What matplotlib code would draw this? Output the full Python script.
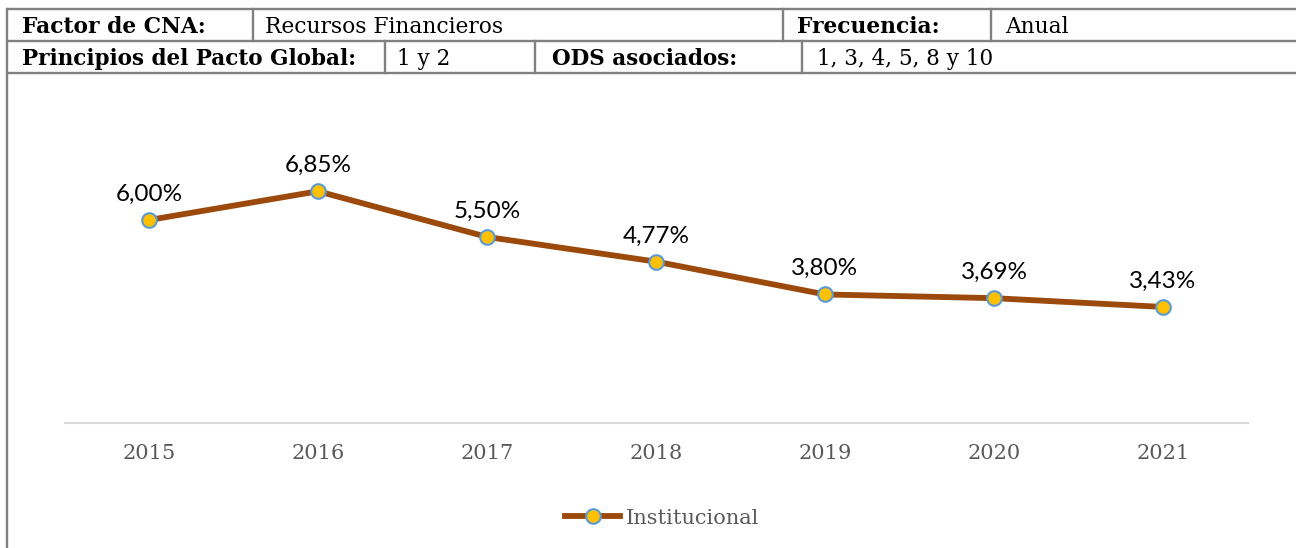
import matplotlib
matplotlib.use("Agg")
import matplotlib.pyplot as plt
import numpy as np

# chart data
years = ["2015", "2016", "2017", "2018", "2019", "2020", "2021"]
values = [6.00, 6.85, 5.50, 4.77, 3.80, 3.69, 3.43]
series_name = "Institucional"

# header table text
row1 = [("Factor de CNA:", True), ("Recursos Financieros", False),
        ("Frecuencia:", True), ("Anual", False)]
row2 = [("Principios del Pacto Global:", True), ("1 y 2", False),
        ("ODS asociados:", True), ("1, 3, 4, 5, 8 y 10", False)]

W, H = 1296, 548
SERIF = "DejaVu Serif"
SANS = "Lato"


def main():
    fig = plt.figure(figsize=(W / 100, H / 100), dpi=100)

    # full figure overlay in pixel coordinates for the table
    bg = fig.add_axes([0, 0, 1, 1])
    bg.set_xlim(0, W)
    bg.set_ylim(H, 0)
    bg.axis("off")

    grey = "#808080"
    lw = 1.7
    for y in (9, 41, 73):
        bg.plot([7, W], [y, y], color=grey, lw=lw, solid_capstyle="butt")
    bg.plot([7, 7], [9, H], color=grey, lw=lw)
    for x in (253, 783, 991):
        bg.plot([x, x], [9, 41], color=grey, lw=lw)
    for x in (385, 535, 802):
        bg.plot([x, x], [41, 73], color=grey, lw=lw)

    xs1 = [22, 265, 797, 1005]
    xs2 = [22, 397, 552, 817]
    for (txt, bold), x in zip(row1, xs1):
        bg.text(x, 33, txt, family=SERIF, fontsize=15.7,
                weight="bold" if bold else "normal", va="baseline", ha="left",
                color="black")
    for (txt, bold), x in zip(row2, xs2):
        bg.text(x, 65, txt, family=SERIF, fontsize=15.5,
                weight="bold" if bold else "normal", va="baseline", ha="left",
                color="black")

    # line chart
    left, right = 64.5, 1247.5
    y0 = 423
    ymax = 8
    px_per = 33.83
    ax = fig.add_axes([left / W, (H - y0) / H, (right - left) / W,
                       ymax * px_per / H])
    x = np.arange(len(years))
    ax.plot(x, values, color="#9C4A0C", lw=4.2, marker="o", markersize=10.5,
            markerfacecolor="#FFC000", markeredgecolor="#5B9BD5",
            markeredgewidth=1.5, label=series_name, zorder=3)
    for xi, v in zip(x, values):
        ax.annotate(f"{v:.2f}%".replace(".", ","), (xi, v),
                    xytext=(0, 11), textcoords="offset points",
                    ha="center", va="bottom", fontsize=17.5, family=SANS,
                    color="black")

    ax.set_xlim(-0.5, len(years) - 0.5)
    ax.set_ylim(0, ymax)
    ax.set_xticks(x)
    ax.set_xticklabels(years, family=SERIF, fontsize=15, color="#595959")
    ax.tick_params(axis="x", length=0, pad=15)
    ax.set_yticks([])
    for s in ("top", "right", "left"):
        ax.spines[s].set_visible(False)
    ax.spines["bottom"].set_color("#D9D9D9")
    ax.spines["bottom"].set_linewidth(1.5)
    ax.patch.set_alpha(0)

    leg = fig.legend(loc="center", bbox_to_anchor=(662 / W, 1 - 518 / H),
                     frameon=False, prop={"family": SERIF, "size": 15},
                     handlelength=2.65, handletextpad=0.25)
    for t in leg.get_texts():
        t.set_color("#595959")

    fig.savefig("out.png", dpi=100)


if __name__ == "__main__":
    main()
